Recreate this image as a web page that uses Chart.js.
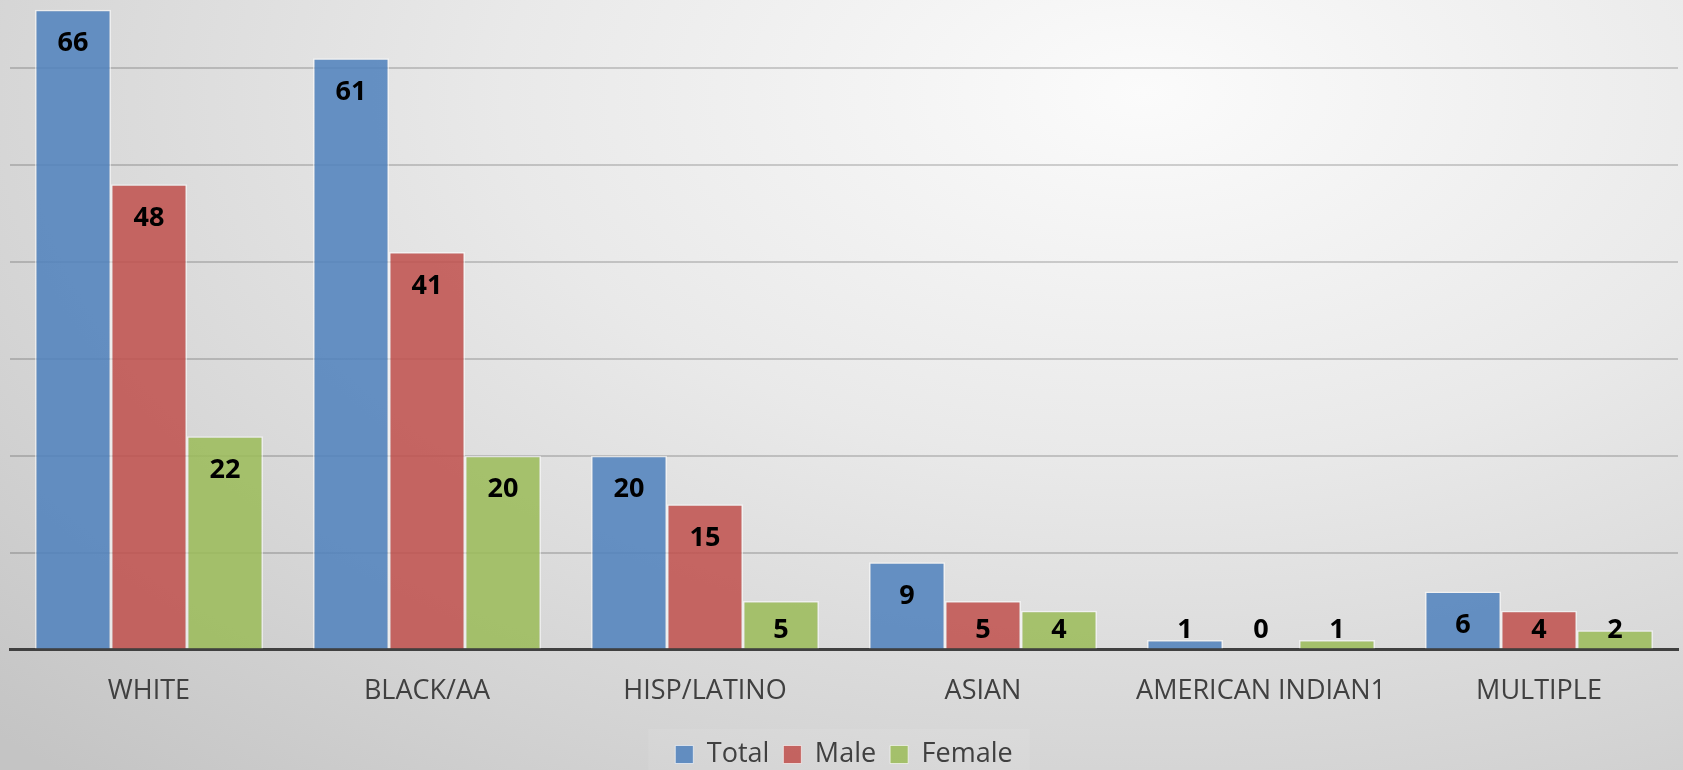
<!DOCTYPE html>
<html>
<head>
<meta charset="utf-8">
<script src="https://cdn.jsdelivr.net/npm/chart.js@4"></script>
<style>
  html, body { margin: 0; padding: 0; }
  body {
    width: 1683px; height: 770px; overflow: hidden;
    background: radial-gradient(ellipse 95% 120% at 68% 12%, #fbfbfb 0%, #e9e9e9 40%, #d4d4d4 75%, #c4c4c4 100%);
  }
  canvas { display: block; }
</style>
</head>
<body>
<canvas id="raceChart" width="1683" height="770"></canvas>
<script>
// categories and series
const groups = ['WHITE', 'BLACK/AA', 'HISP/LATINO', 'ASIAN', 'AMERICAN INDIAN1', 'MULTIPLE'];
const totalCounts = [66, 61, 20, 9, 1, 6];
const maleCounts = [48, 41, 15, 5, 0, 4];
const femaleCounts = [22, 20, 5, 4, 1, 2];
const seriesNames = ['Total', 'Male', 'Female'];

// value labels, excel "inside end" style
const barLabels = {
  id: 'barLabels',
  afterDatasetsDraw(chart) {
    const c = chart.ctx;
    const base = chart.scales.y.getPixelForValue(0);
    c.save();
    c.font = 'bold 27px "Open Sans"';
    c.fillStyle = '#000';
    c.textAlign = 'center';
    c.textBaseline = 'middle';
    chart.data.datasets.forEach((ds, i) => {
      chart.getDatasetMeta(i).data.forEach((bar, j) => {
        let y = Math.min(bar.y + 34, base - 19);
        c.fillText(String(ds.data[j]), bar.x, y);
      });
    });
    c.restore();
  }
};

// faint panel behind the legend
const legendPanel = {
  id: 'legendPanel',
  beforeDraw(chart) {
    const lg = chart.legend;
    if (!lg || !lg.legendHitBoxes.length) return;
    const first = lg.legendHitBoxes[0], last = lg.legendHitBoxes[lg.legendHitBoxes.length - 1];
    const c = chart.ctx;
    c.save();
    c.fillStyle = 'rgba(255,255,255,0.08)';
    c.fillRect(first.left - 27, first.top - 12, last.left + last.width - first.left + 44, chart.height);
    c.restore();
  }
};

let ctx = document.getElementById('raceChart');
new Chart(ctx, {
  type: 'bar',
  data: {
    labels: groups,
    datasets: [
      {label: seriesNames[0], data: totalCounts, backgroundColor: 'rgba(79,129,189,0.86)', borderColor: 'rgba(255,255,255,0.55)', borderWidth: 1.5},
      {label: seriesNames[1], data: maleCounts, backgroundColor: 'rgba(192,80,77,0.86)', borderColor: 'rgba(255,255,255,0.55)', borderWidth: 1.5},
      {label: seriesNames[2], data: femaleCounts, backgroundColor: 'rgba(155,187,89,0.86)', borderColor: 'rgba(255,255,255,0.55)', borderWidth: 1.5}
    ]
  },
  options: {
    responsive: false,
    animation: false,
    devicePixelRatio: 1,
    categoryPercentage: 0.82,
    barPercentage: 1.0,
    layout: {padding: {left: 10, right: 5, top: 0, bottom: -8}},
    plugins: {
      tooltip: {enabled: false},
      legend: {
        position: 'bottom',
        labels: {
          font: {family: 'Open Sans', size: 27},
          color: '#404040',
          boxWidth: 18, boxHeight: 18,
          padding: 14,
          generateLabels(chart) {
            return chart.data.datasets.map((ds, i) => ({
              text: ds.label, fillStyle: ds.backgroundColor, strokeStyle: 'rgba(255,255,255,0.6)',
              lineWidth: 1, datasetIndex: i, fontColor: '#404040'
            }));
          }
        }
      }
    },
    scales: {
      x: {
        grid: {display: false, drawTicks: false},
        border: {color: '#404040', width: 3},
        ticks: {font: {family: 'Open Sans', size: 27}, color: '#404040', padding: 26},
        afterFit: (s) => { s.height -= 7; }
      },
      y: {
        min: 0, max: 67,
        grid: {
          drawTicks: false, lineWidth: 2,
          color: (c) => (c.tick.value % 10 === 0 && c.tick.value > 0) ? 'rgba(0,0,0,0.17)' : 'transparent'
        },
        border: {display: false},
        ticks: {display: false, stepSize: 10}
      }
    }
  },
  plugins: [barLabels, legendPanel]
});
</script>
</body>
</html>
